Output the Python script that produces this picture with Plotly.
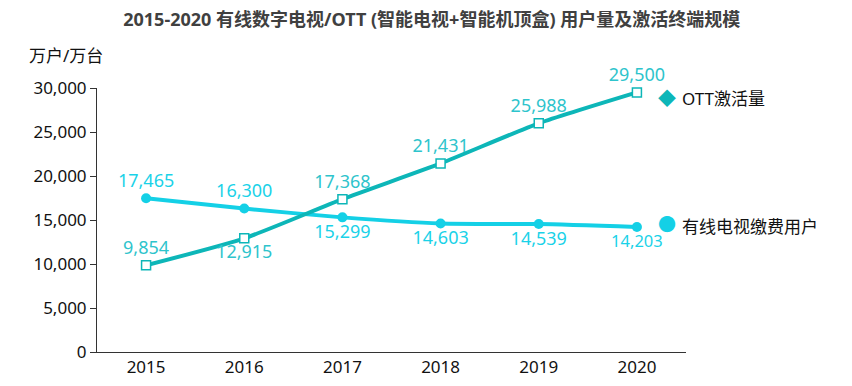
import plotly.graph_objects as go

years = ["2015", "2016", "2017", "2018", "2019", "2020"]
ott = [9854, 12915, 17368, 21431, 25988, 29500]
cable = [17465, 16300, 15299, 14603, 14539, 14203]
ott_pos = ["top center", "bottom center", "top center", "top center", "top center", "top center"]
cable_pos = ["top center", "top center", "bottom center", "bottom center", "bottom center", "bottom center"]
cable_label_sizes = [18, 18, 18, 18, 18, 16.5]
y_ticks = [0, 5000, 10000, 15000, 20000, 25000, 30000]

OTT_C = "#0DB6B8"
CAB_C = "#14D0E6"
FONT = "Noto Sans, Noto Sans CJK SC, sans-serif"

fig = go.Figure()
fig.add_trace(go.Scatter(
    x=years, y=cable, mode="lines+markers+text", name="有线电视缴费用户",
    line=dict(color=CAB_C, width=4, shape="spline", smoothing=0.6),
    marker=dict(symbol="circle", size=10, color=CAB_C),
    text=[f"{v:,}" for v in cable], textposition=cable_pos,
    textfont=dict(color="#1AD2E8", size=cable_label_sizes, family=FONT),
    cliponaxis=False,
))
fig.add_trace(go.Scatter(
    x=years, y=ott, mode="lines+markers+text", name="OTT激活量",
    line=dict(color=OTT_C, width=4, shape="spline", smoothing=0.6),
    marker=dict(symbol="square", size=9, color="white", line=dict(color=OTT_C, width=1.5)),
    text=[f"{v:,}" for v in ott], textposition=ott_pos,
    textfont=dict(color="#2EC4CC", size=18, family=FONT),
    cliponaxis=False,
))

fig.update_layout(
    width=844, height=378,
    margin=dict(l=89, r=166, t=80, b=34, autoexpand=False),
    paper_bgcolor="white", plot_bgcolor="white",
    showlegend=False,
    font=dict(family=FONT, color="#000000"),
    title=dict(text="<b>2015-2020 有线数字电视/OTT (智能电视+智能机顶盒) 用户量及激活终端规模</b>",
               x=0.502, xanchor="center", y=0.968, yanchor="middle",
               font=dict(size=18, color="#404040", family=FONT)),
    xaxis=dict(type="category", range=[-0.5, 5.5], showline=True, linecolor="#333333", linewidth=1,
               ticks="", showgrid=False, automargin=False,
               tickfont=dict(size=17, color="#111111", family=FONT)),
    yaxis=dict(range=[0, 30000], tickvals=y_ticks, tickformat=",", showline=True, linecolor="#333333",
               linewidth=1, ticks="outside", ticklen=6, tickcolor="#333333", showgrid=False,
               zeroline=False, automargin=False,
               tickfont=dict(size=17, color="#111111", family=FONT)),
    annotations=[
        dict(text="万户/万台", xref="paper", yref="paper", x=-0.053, y=1.125, xanchor="center",
             yanchor="middle", showarrow=False, font=dict(size=17, color="#111111", family=FONT)),
        dict(text="◆", xref="paper", yref="paper", x=0.968, y=0.962, xanchor="center", yanchor="middle",
             showarrow=False, font=dict(size=18, color=OTT_C, family=FONT)),
        dict(text="OTT激活量", xref="paper", yref="paper", x=0.99, y=0.962, xanchor="left", yanchor="middle",
             showarrow=False, font=dict(size=17, color="#111111", family=FONT)),
        dict(text="●", xref="paper", yref="paper", x=0.968, y=0.486, xanchor="center", yanchor="middle",
             showarrow=False, font=dict(size=18, color=CAB_C, family=FONT)),
        dict(text="有线电视缴费用户", xref="paper", yref="paper", x=0.99, y=0.477, xanchor="left", yanchor="middle",
             showarrow=False, font=dict(size=17, color="#111111", family=FONT)),
    ],
)

fig.write_html("out.html")
